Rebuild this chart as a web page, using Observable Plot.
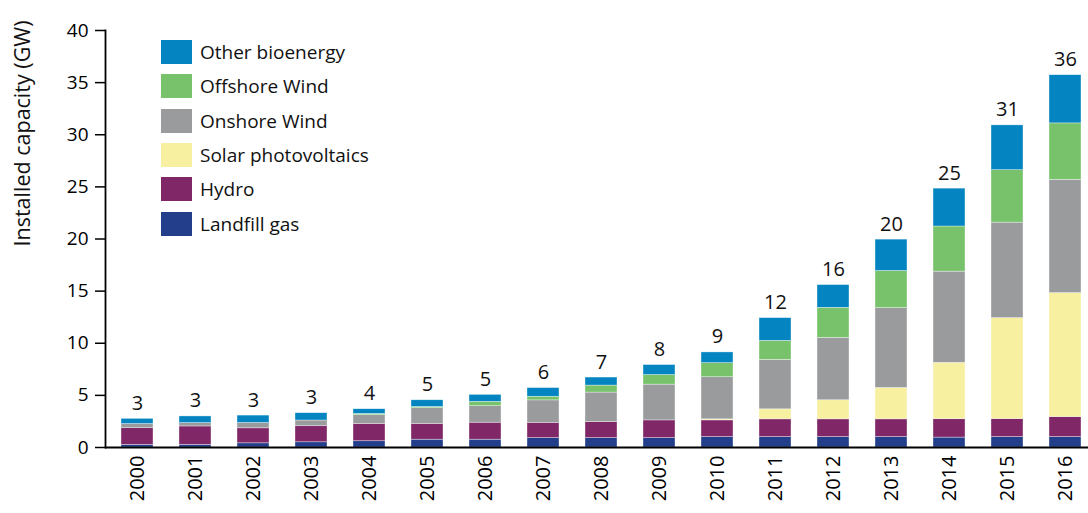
<!DOCTYPE html>
<html>
<head>
<meta charset="utf-8">
<script src="https://cdn.jsdelivr.net/npm/d3@7"></script>
<script src="https://cdn.jsdelivr.net/npm/@observablehq/plot@0.6"></script>
<style>
  body { margin: 0; background: #fff; font-family: "Open Sans", sans-serif; }
  #wrap { position: relative; width: 1088px; height: 513px; }
  #legend { position: absolute; left: 161px; top: 35px; display: flex; flex-direction: column; }
  .row { display: flex; align-items: center; height: 34.3px; }
  .sw { width: 31px; height: 24px; margin-right: 8px; }
  .lab { font-size: 19px; color: #111; }
</style>
</head>
<body>
<div id="wrap"><div id="legend"></div></div>
<script>
const years = ["2000","2001","2002","2003","2004","2005","2006","2007","2008","2009","2010","2011","2012","2013","2014","2015","2016"];
const series = ["Landfill gas", "Hydro", "Solar photovoltaics", "Onshore Wind", "Offshore Wind", "Other bioenergy"];
const colors = ["#233F8B", "#7F2767", "#F6F0A0", "#9A9B9D", "#77C26B", "#0485C1"];
const landfill = [0.25,0.25,0.4,0.5,0.6,0.75,0.75,0.9,0.9,0.9,1.0,1.0,1.0,1.0,0.95,1.0,1.0];
const hydro    = [1.6,1.77,1.44,1.54,1.66,1.51,1.63,1.47,1.54,1.70,1.60,1.70,1.70,1.70,1.76,1.73,1.92];
const solar    = [0,0,0,0,0,0,0,0,0,0,0.1,0.96,1.83,3.01,5.41,9.68,11.89];
const onshore  = [0.4,0.32,0.51,0.55,0.84,1.51,1.58,2.15,2.83,3.43,4.04,4.74,5.99,7.66,8.75,9.16,10.87];
const offshore = [0,0,0,0,0.12,0.12,0.42,0.35,0.67,0.92,1.35,1.83,2.88,3.56,4.33,5.03,5.41];
const other    = [0.5,0.64,0.71,0.70,0.45,0.64,0.67,0.83,0.77,0.96,1.03,2.18,2.18,3.01,3.63,4.3,4.62];
const totalLabels = ["3","3","3","3","4","5","5","6","7","8","9","12","16","20","25","31","36"];
const yTicks = [0,5,10,15,20,25,30,35,40];

const valuesBySeries = [landfill, hydro, solar, onshore, offshore, other];
const data = [];
series.forEach((s, k) => years.forEach((y, i) => data.push({year: y, series: s, value: valuesBySeries[k][i]})));
const totals = years.map((y, i) => valuesBySeries.reduce((a, arr) => a + arr[i], 0));

const font = "Open Sans, sans-serif";
const chart = Plot.plot({
  width: 1088,
  height: 513,
  marginTop: 30,
  marginBottom: 66,
  marginLeft: 105,
  marginRight: 0,
  style: {fontFamily: font, color: "#000", background: "transparent"},
  x: {domain: years, range: [105, 1096], paddingInner: 0.45, paddingOuter: 0.21},
  y: {domain: [0, 40]},
  color: {domain: series, range: colors},
  marks: [
    Plot.barY(data, {x: "year", y: "value", fill: "series", stroke: "#fff", strokeWidth: 0.6, strokeOpacity: 0.6}),
    Plot.text(years, {x: d => d, y: (d, i) => totals[i], text: (d, i) => totalLabels[i], dy: -9, lineAnchor: "bottom", fontSize: 20, fill: "#111"}),
    Plot.axisY({ticks: yTicks, tickSize: 10, tickPadding: 7, fontSize: 19, label: null, stroke: "#000", strokeWidth: 1.5}),
    Plot.axisX({tickSize: 0, tickRotate: -90, tickPadding: 8, fontSize: 20, label: null}),
    Plot.frame({anchor: "left", stroke: "#000", strokeWidth: 1.8}),
    Plot.ruleY([0], {stroke: "#000", strokeWidth: 2}),
    Plot.text(["Installed capacity (GW)"], {frameAnchor: "top-left", rotate: -90, textAnchor: "end", lineAnchor: "middle", dx: -82, dy: -10, fontSize: 21.5, fill: "#111"})
  ]
});
document.getElementById("wrap").prepend(chart);

const legend = document.getElementById("legend");
for (let k = series.length - 1; k >= 0; k--) {
  const row = document.createElement("div");
  row.className = "row";
  const sw = document.createElement("div");
  sw.className = "sw";
  sw.style.background = colors[k];
  const lab = document.createElement("span");
  lab.className = "lab";
  lab.textContent = series[k];
  row.append(sw, lab);
  legend.append(row);
}
</script>
</body>
</html>
